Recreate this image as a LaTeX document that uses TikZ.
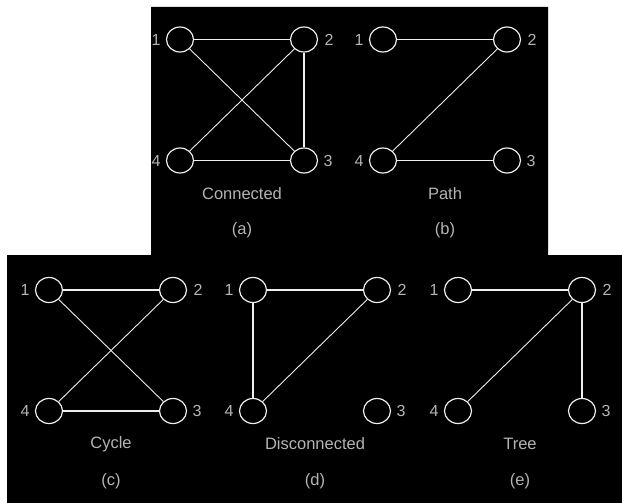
\documentclass[tikz,border=0pt]{standalone}
\usepackage{fontspec}
\setmainfont{Liberation Sans}
\usetikzlibrary{shapes.geometric}
\definecolor{lbl}{RGB}{180,180,180}
\definecolor{ln}{RGB}{238,238,238}
\newcommand\gpanel[5]{%
  \node[vtx] (#1-1) at (#2,#3) {};
  \node[vtx] (#1-2) at (#2+124,#3) {};
  \node[vtx] (#1-3) at (#2+124,#3+121) {};
  \node[vtx] (#1-4) at (#2,#3+121) {};
  \node[num] (#1-n1) at (#2-24,#3) {1};
  \node[num] (#1-n2) at (#2+149,#3) {2};
  \node[num] (#1-n3) at (#2+148,#3+121) {3};
  \node[num] (#1-n4) at (#2-24,#3+121) {4};
  \node[captext] (#1-t) at (#2+62,#3+154) {#4};
  \node[captext] (#1-s) at (#2+62,#3+191) {#5};
}
\begin{document}
\begin{tikzpicture}[x=1pt,y=-1pt,
  vtx/.style={draw=ln, line width=1.2pt, ellipse, minimum width=27pt, minimum height=25pt, inner sep=0pt},
  num/.style={text=lbl, font=\fontsize{16}{16}\selectfont, inner sep=0pt},
  captext/.style={text=lbl, font=\fontsize{16.5}{17}\selectfont, inner sep=0pt},
  edg/.style={draw=ln, line width=1.2pt},
  dg/.style={draw=ln, line width=0.9pt}]
\useasboundingbox (0,0) rectangle (622,503);
\fill[white] (0,0) rectangle (622,503);
\fill[black] (151,7) -- (548,7) -- (548,255) -- (622,255) -- (622,503) -- (7,503) -- (7,255) -- (151,255) -- cycle;

\gpanel{a}{180}{39.5}{Connected}{(a)}
\gpanel{b}{383}{39.5}{Path}{(b)}
\gpanel{c}{49}{290}{Cycle}{(c)}
\gpanel{d}{253}{290}{Disconnected}{(d)}
\gpanel{e}{458}{290}{Tree}{(e)}

% (a) Connected
\draw[edg] (a-1) -- (a-2);
\draw[dg] (a-1) -- (a-3);
\draw[edg] (a-2) -- (a-3);
\draw[dg] (a-2) -- (a-4);
\draw[edg] (a-4) -- (a-3);
% (b) Path
\draw[edg] (b-1) -- (b-2);
\draw[dg] (b-2) -- (b-4);
\draw[edg] (b-4) -- (b-3);
% (c) Cycle
\draw[edg] (c-1) -- (c-2);
\draw[dg] (c-1) -- (c-3);
\draw[dg] (c-2) -- (c-4);
\draw[edg] (c-4) -- (c-3);
% (d) Disconnected
\draw[edg] (d-1) -- (d-2);
\draw[edg] (d-1) -- (d-4);
\draw[dg] (d-2) -- (d-4);
% (e) Tree
\draw[edg] (e-1) -- (e-2);
\draw[dg] (e-2) -- (e-4);
\draw[edg] (e-2) -- (e-3);
\end{tikzpicture}
\end{document}
